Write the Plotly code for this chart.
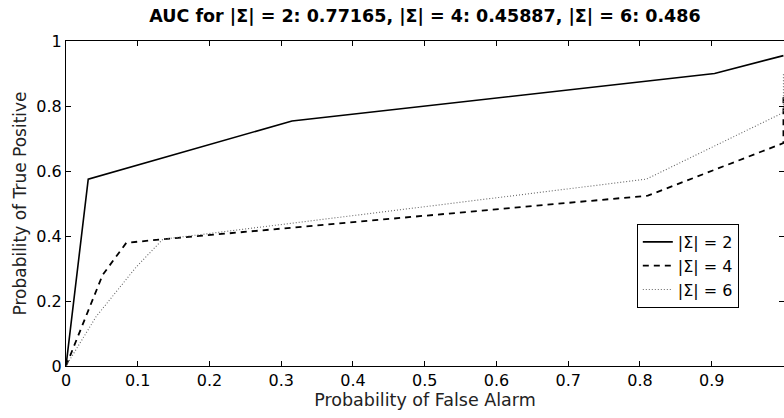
import plotly.graph_objects as go

x_s2 = [0, 0.031, 0.315, 0.904, 1.0]
y_s2 = [0, 0.575, 0.754, 0.900, 0.955]

x_s4 = [0, 0.030, 0.051, 0.084, 0.135, 0.811, 1.0, 1.0]
y_s4 = [0, 0.162, 0.280, 0.379, 0.390, 0.524, 0.686, 0.834]

x_s6 = [0, 0.042, 0.098, 0.135, 0.809, 1.0, 1.0]
y_s6 = [0, 0.152, 0.305, 0.390, 0.575, 0.780, 0.900]

names = ["|Σ| = 2", "|Σ| = 4", "|Σ| = 6"]
title = "AUC for |Σ| = 2: 0.77165, |Σ| = 4: 0.45887, |Σ| = 6: 0.486"

x_ticks = [0, 0.1, 0.2, 0.3, 0.4, 0.5, 0.6, 0.7, 0.8, 0.9, 1]
x_ticklabels = ["0", "0.1", "0.2", "0.3", "0.4", "0.5", "0.6", "0.7", "0.8", "0.9", "1"]
y_ticks = [0, 0.2, 0.4, 0.6, 0.8, 1]
y_ticklabels = ["0", "0.2", "0.4", "0.6", "0.8", "1"]

FONT = "DejaVu Sans, Liberation Sans, sans-serif"

fig = go.Figure()
fig.add_trace(go.Scatter(x=x_s2, y=y_s2, mode="lines", name=names[0],
                         line=dict(color="black", width=1.6, dash="solid")))
fig.add_trace(go.Scatter(x=x_s4, y=y_s4, mode="lines", name=names[1],
                         line=dict(color="black", width=1.8, dash="6px,5px")))
fig.add_trace(go.Scatter(x=x_s6, y=y_s6, mode="lines", name=names[2],
                         line=dict(color="#666666", width=1.1, dash="1px,2px")))

axis_common = dict(showline=True, linecolor="black", linewidth=1.2, mirror="ticks",
                   ticks="inside", ticklen=5, tickcolor="black", tickwidth=1,
                   showgrid=False, zeroline=False,
                   tickfont=dict(family=FONT, size=16, color="black"))

fig.update_xaxes(range=[0, 1.0008], tickvals=x_ticks, ticktext=x_ticklabels,
                 title=dict(text="Probability of False Alarm",
                            font=dict(family=FONT, size=17.5, color="#222"), standoff=2),
                 **axis_common)
fig.update_yaxes(range=[0, 1], tickvals=y_ticks, ticktext=y_ticklabels,
                 title=dict(text="Probability of True Positive",
                            font=dict(family=FONT, size=17, color="#222"), standoff=5),
                 **axis_common)

fig.update_layout(
    width=784, height=418,
    margin=dict(l=66, r=0, t=41, b=52),
    paper_bgcolor="white", plot_bgcolor="white",
    title=dict(text="<b>" + title + "</b>", x=0.5421, xanchor="center", y=0.962, yanchor="middle",
               font=dict(family=FONT, size=17.5, color="black")),
    legend=dict(x=0.795, y=0.437, xanchor="left", yanchor="top",
                bordercolor="black", borderwidth=1, bgcolor="white",
                font=dict(family=FONT, size=16, color="black"),
                itemwidth=30, tracegroupgap=0),
    showlegend=True,
)

fig.write_html("out.html")
